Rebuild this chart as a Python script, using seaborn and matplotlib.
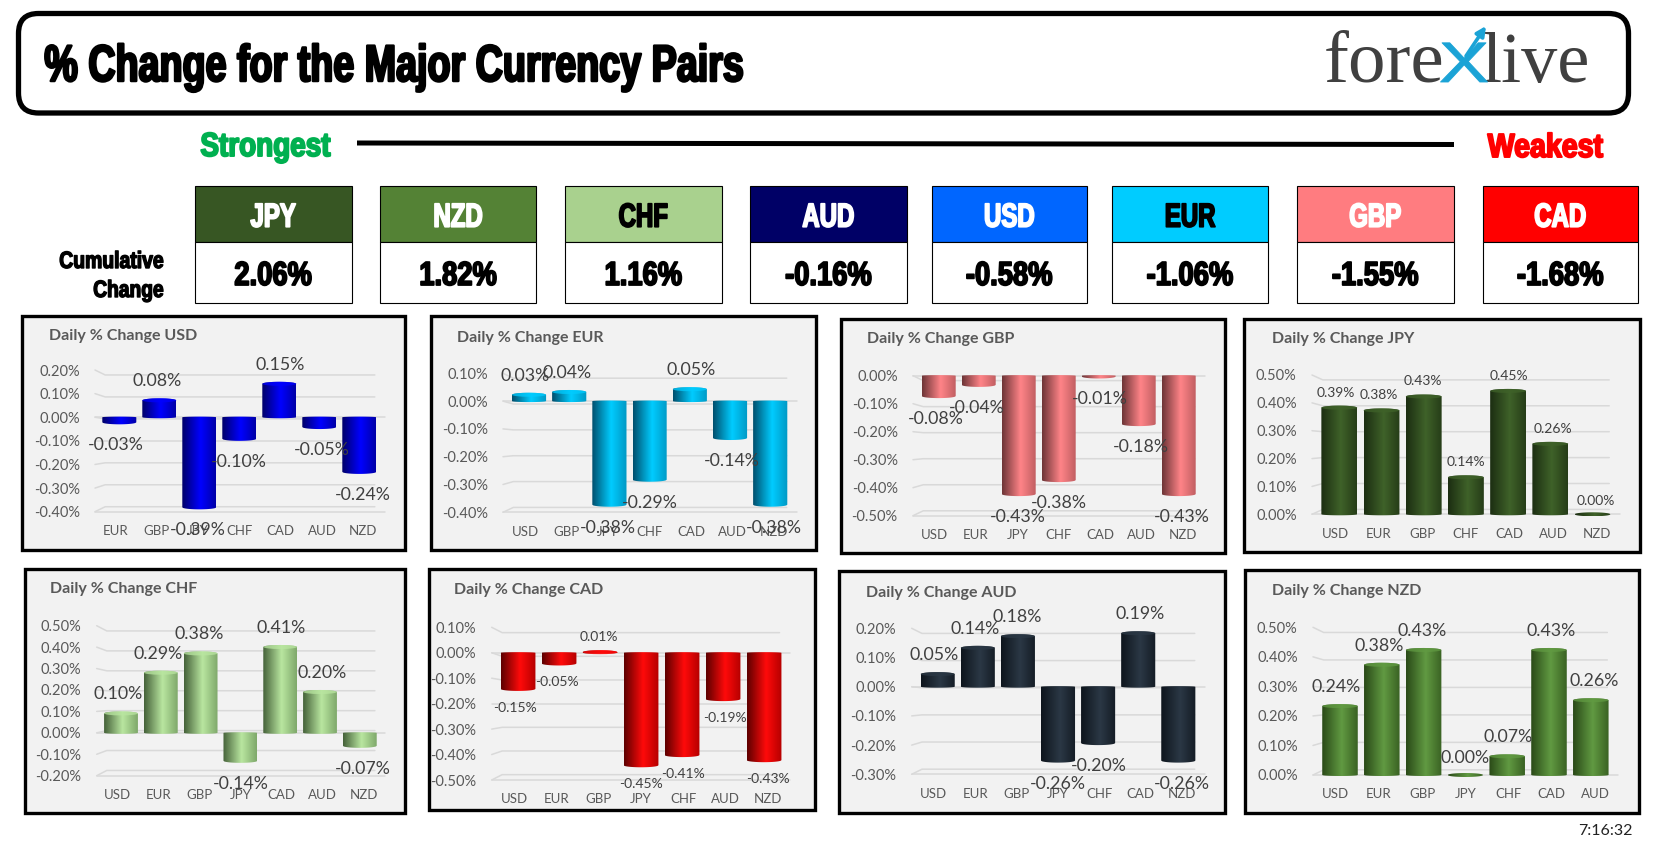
# % change for the major currency pairs, board of 8 small bar charts

import numpy as np
import pandas as pd
import matplotlib
matplotlib.use("Agg")
import matplotlib.pyplot as plt
import seaborn as sns

from matplotlib.colors import LinearSegmentedColormap
from matplotlib.patches import Rectangle, FancyBboxPatch, Ellipse, Polygon
from matplotlib.patheffects import AbstractPathEffect
from matplotlib.transforms import Affine2D

# --- data

rank_names = ["JPY", "NZD", "CHF", "AUD", "USD", "EUR", "GBP", "CAD"]
rank_values = [2.06, 1.82, 1.16, -0.16, -0.58, -1.06, -1.55, -1.68]

usd_cats = ["EUR", "GBP", "JPY", "CHF", "CAD", "AUD", "NZD"]
usd_vals = [-0.03, 0.08, -0.39, -0.10, 0.15, -0.05, -0.24]
usd_ticks = [0.20, 0.10, 0.00, -0.10, -0.20, -0.30, -0.40]

eur_cats = ["USD", "GBP", "JPY", "CHF", "CAD", "AUD", "NZD"]
eur_vals = [0.03, 0.04, -0.38, -0.29, 0.05, -0.14, -0.38]
eur_ticks = [0.10, 0.00, -0.10, -0.20, -0.30, -0.40]

gbp_cats = ["USD", "EUR", "JPY", "CHF", "CAD", "AUD", "NZD"]
gbp_vals = [-0.08, -0.04, -0.43, -0.38, -0.01, -0.18, -0.43]
gbp_ticks = [0.00, -0.10, -0.20, -0.30, -0.40, -0.50]

jpy_cats = ["USD", "EUR", "GBP", "CHF", "CAD", "AUD", "NZD"]
jpy_vals = [0.39, 0.38, 0.43, 0.14, 0.45, 0.26, 0.00]
jpy_ticks = [0.50, 0.40, 0.30, 0.20, 0.10, 0.00]

chf_cats = ["USD", "EUR", "GBP", "JPY", "CAD", "AUD", "NZD"]
chf_vals = [0.10, 0.29, 0.38, -0.14, 0.41, 0.20, -0.07]
chf_ticks = [0.50, 0.40, 0.30, 0.20, 0.10, 0.00, -0.10, -0.20]

cad_cats = ["USD", "EUR", "GBP", "JPY", "CHF", "AUD", "NZD"]
cad_vals = [-0.15, -0.05, 0.01, -0.45, -0.41, -0.19, -0.43]
cad_ticks = [0.10, 0.00, -0.10, -0.20, -0.30, -0.40, -0.50]

aud_cats = ["USD", "EUR", "GBP", "JPY", "CHF", "CAD", "NZD"]
aud_vals = [0.05, 0.14, 0.18, -0.26, -0.20, 0.19, -0.26]
aud_ticks = [0.20, 0.10, 0.00, -0.10, -0.20, -0.30]

nzd_cats = ["USD", "EUR", "GBP", "JPY", "CHF", "CAD", "AUD"]
nzd_vals = [0.24, 0.38, 0.43, 0.00, 0.07, 0.43, 0.26]
nzd_ticks = [0.50, 0.40, 0.30, 0.20, 0.10, 0.00]

# --- layout, all in pixels of the 1659x860 picture

W, H = 1659, 860
GREY = "#595959"
LABEL = "#404040"
HEAVY = ["Liberation Sans Narrow", "Liberation Sans", "DejaVu Sans"]
SOFT = ["Lato", "DejaVu Sans"]

box_left = [195, 380, 565, 750, 932, 1112, 1297, 1483]
box_right = [351.5, 536, 721.5, 907, 1086.5, 1268, 1453.5, 1637.5]
box_fill = ["#375623", "#548235", "#A9D18E", "#000066", "#0066FF", "#00CCFF", "#FF7C80", "#FF0000"]
box_text = ["white", "white", "black", "white", "white", "black", "white", "white"]

# name, cats, vals, ticks, frame (x0, y0, x1, y1), first bar x, bar step, front left/right,
# y of top/bottom tick, title x, title y, label font size, label gap, shades
panels = [
    ("USD", usd_cats, usd_vals, usd_ticks, (20, 314, 407, 552), 119.3, 40.0, 95, 385, 370, 511.7, 49, 336, 12.8, 19,
     ("#00006A", "#0000FF", "#0000A8")),
    ("EUR", eur_cats, eur_vals, eur_ticks, (429, 314, 818, 552), 529, 40.2, 503, 797, 373.3, 512.3, 457, 338, 12.8, 19,
     ("#00506E", "#00CCFF", "#0098C4")),
    ("GBP", gbp_cats, gbp_vals, gbp_ticks, (839, 317, 1227, 555), 938.7, 40.0, 913, 1205, 375.7, 515.7, 867, 339, 12.8, 19,
     ("#6E3537", "#FF8488", "#C25F62")),
    ("JPY", jpy_cats, jpy_vals, jpy_ticks, (1242, 317, 1642, 554), 1339.3, 42.2, 1312, 1620, 375, 514.3, 1272, 339, 10, 15,
     ("#1C2E12", "#3F6229", "#263D18")),
    ("CHF", chf_cats, chf_vals, chf_ticks, (23, 567, 407, 815), 121, 39.8, 96.7, 385, 625.7, 775.7, 50, 589.3, 12.8, 19,
     ("#46633A", "#B9E6A0", "#7FA96B")),
    ("CAD", cad_cats, cad_vals, cad_ticks, (427, 567, 817, 812), 518, 41.0, 491.7, 790, 627.3, 780, 454, 590, 10, 15,
     ("#5E0000", "#FF0A0A", "#B50000")),
    ("AUD", aud_cats, aud_vals, aud_ticks, (837, 569, 1227, 815), 937.7, 40.1, 911.7, 1205, 628.3, 774.3, 865.7, 592.7, 12.8, 19,
     ("#0E151D", "#2B3845", "#141C25")),
    ("NZD", nzd_cats, nzd_vals, nzd_ticks, (1243, 568, 1641, 815), 1340, 41.8, 1313, 1618, 627.3, 775, 1272, 591.3, 12.8, 19,
     ("#2A4A18", "#619A42", "#3A6223")),
]


class Heavy(AbstractPathEffect):
    # no Impact here: squeeze the glyphs sideways and fatten them with a stroke
    def __init__(self, sx=None, width=None, fat=1.0, left=False):
        super().__init__()
        self.sx = sx
        self.width = width
        self.fat = fat
        self.left = left

    def draw_path(self, renderer, gc, tpath, affine, rgbFace=None):
        bb = tpath.get_extents(affine)
        sx = self.sx if self.width is None else self.width / bb.width
        cx = bb.x0 if self.left else (bb.x0 + bb.x1) / 2
        aff = affine + Affine2D().translate(-cx, 0).scale(sx, 1).translate(cx, 0)
        gc0 = renderer.new_gc()
        gc0.copy_properties(gc)
        gc0.set_linewidth(self.fat)
        gc0.set_foreground(rgbFace)
        renderer.draw_path(gc0, tpath, aff, rgbFace)
        gc0.restore()


sns.set_theme(style="white")
plt.rcParams["font.family"] = SOFT

fig = plt.figure(figsize=(W / 100, H / 100), dpi=100, facecolor="white")
bg = fig.add_axes([0, 0, 1, 1])
bg.set_xlim(0, W)
bg.set_ylim(H, 0)
bg.axis("off")


def heavy(x, y, s, size, color="black", ha="center", **kw):
    bg.text(x, y, s, fontsize=size, color=color, ha=ha, va="baseline", family=HEAVY, fontweight="bold",
            path_effects=[Heavy(**kw)])


# --- header

bg.add_patch(FancyBboxPatch((18.5, 13.5), 1610, 99.5, boxstyle="round,pad=0,rounding_size=20",
                            fc="white", ec="black", lw=3.8))
heavy(44, 81, "% Change for the Major Currency Pairs", 37, ha="left", width=697, left=True, fat=1.8)

bg.text(1384, 82, "fore", fontsize=54, color="#404040", family="Liberation Serif", ha="center", va="baseline")
bg.text(1536, 82, "live", fontsize=52, color="#404040", family="Liberation Serif", ha="center", va="baseline")
bg.text(1464, 82, "X", fontsize=41, color="#1BA3D6", family="Liberation Sans", ha="center", va="baseline",
        path_effects=[Heavy(width=47, fat=0.6)])
bg.annotate("", xy=(1486, 26), xytext=(1466, 56),
            arrowprops=dict(arrowstyle="-|>", color="#1BA3D6", lw=2.6, mutation_scale=14, shrinkA=0, shrinkB=0))

heavy(265.5, 156, "Strongest", 24, color="#00B050", width=129, fat=1.4)
heavy(1545.5, 157, "Weakest", 24, color="#FF0000", width=115, fat=1.4)
bg.plot([357, 1454], [143, 144.5], color="black", lw=3.6, solid_capstyle="butt")

heavy(111.5, 268, "Cumulative", 17, width=103, fat=1.0)
heavy(128.5, 297, "Change", 17, width=69, fat=1.0)

for name, val, x0, x1, fill, txt in zip(rank_names, rank_values, box_left, box_right, box_fill, box_text):
    bg.add_patch(Rectangle((x0, 186), x1 - x0, 56, fc=fill, ec="black", lw=0.8))
    bg.add_patch(Rectangle((x0, 242), x1 - x0, 61, fc="white", ec="black", lw=0.8))
    heavy((x0 + x1) / 2, 226.7, name, 24, color=txt, sx=0.72, fat=1.3)
    heavy((x0 + x1) / 2, 285, f"{val:.2f}%", 24, sx=0.82, fat=1.3)

bg.text(1633, 831, "7:16:32", fontsize=11.5, color="#222222", ha="right", va="center")

# --- the 8 charts

for name, cats, vals, ticks, frame, bar0, step, fl, fr, yt, yb, tx, ty, lab_size, gap, shades in panels:
    fx0, fy0, fx1, fy1 = frame
    bg.add_patch(Rectangle((fx0 + 1.6, fy0 + 1.6), fx1 - fx0 - 3.2, fy1 - fy0 - 3.2, fc="#F2F2F2", ec="black", lw=2.4))
    bg.text(tx, ty, f"Daily % Change {name}", fontsize=11.5, fontweight="bold", color=GREY, ha="left", va="center")

    ax = fig.add_axes([fl / W, 1 - yb / H, (fr - fl) / W, (yb - yt) / H])
    ax.patch.set_visible(False)
    df = pd.DataFrame({"currency": cats, "change": vals})
    sns.barplot(data=df, x="currency", y="change", ax=ax, width=0.85, color=shades[1], saturation=1, zorder=2)

    ymin, ymax = ticks[-1], ticks[0]
    per_unit = (yb - yt) / (ymax - ymin)
    xlim = ((fl - bar0) / step, (fr - bar0) / step)
    cap = 2.0 / per_unit

    # back wall grid, a bit smaller than the front axis like the 3D chart it comes from
    for t in ticks:
        f = (t - ymin) / (ymax - ymin)
        back = 0.5 + (f - 0.5) * 0.93
        ax.plot([0, 0.035, 0.965], [f, back, back], transform=ax.transAxes, color="#D9D9D9", lw=1.1, zorder=1, clip_on=False)
        if t == 0 or t == ymin:
            ax.plot([0, 1], [f, f], transform=ax.transAxes, color="#D9D9D9", lw=1.1, zorder=1, clip_on=False)

    cmap = LinearSegmentedColormap.from_list(name, [(0, shades[0]), (0.55, shades[1]), (1, shades[2])])
    shade = np.linspace(0, 1, 64).reshape(1, -1)

    for i, (rect, v) in enumerate(zip(ax.containers[0], vals)):
        rect.set_alpha(0)
        x0, wd = rect.get_x(), rect.get_width()
        lo, hi = min(0, v), max(0, v)
        t = np.linspace(-1, 1, 41)
        xs = x0 + wd * (t + 1) / 2
        bow = cap * np.sqrt(1 - t ** 2)
        # the curved end of the cylinder stops at the value, the other end stays on zero
        if v > 0:
            end = max(v - cap, 0)
            upper, lower = end + bow, -0.5 * bow
        elif v < 0:
            end = min(v + cap, 0)
            upper, lower = 0.3 * bow, end - bow
        else:
            end = 0
            upper, lower = bow, -bow
        outline = np.r_[np.c_[xs, lower], np.c_[xs[::-1], upper[::-1]]]
        im = ax.imshow(shade, extent=[x0, x0 + wd, lo - cap, hi + cap], aspect="auto", cmap=cmap, zorder=2)
        im.set_clip_box(fig.bbox)
        im.set_clip_path(Polygon(outline, transform=ax.transData))
        if v > 0:
            ax.add_patch(Ellipse((x0 + wd / 2, end), wd, 2 * cap, fc=shades[1], ec="none", alpha=0.75, zorder=2.2))

        # labels fan out a little from the middle, same 3D look
        sign = 1 if v >= 0 else -1
        ax.annotate(f"{v:.2f}%", xy=(i + (i - 3) * 0.028, v), xytext=(0, sign * gap * 0.72 - 1.4), textcoords="offset points",
                    fontsize=lab_size, color=LABEL, ha="center", va="center", annotation_clip=False, zorder=4)

    ax.set_xlim(*xlim)
    ax.set_ylim(ymin, ymax)
    ax.set_yticks(ticks)
    ax.set_yticklabels([f"{t:.2f}%" for t in ticks])
    ax.set_xticks([i + (i - 3) * 0.033 for i in range(len(cats))])
    ax.set_xticklabels(cats)
    ax.set_xlabel("")
    ax.set_ylabel("")
    ax.tick_params(axis="y", length=0, pad=11, labelsize=10.5, labelcolor=GREY)
    ax.tick_params(axis="x", length=0, pad=9.6, labelsize=9.5, labelcolor=GREY)
    sns.despine(ax=ax, left=True, bottom=True)

fig.savefig("out.png", dpi=100)
